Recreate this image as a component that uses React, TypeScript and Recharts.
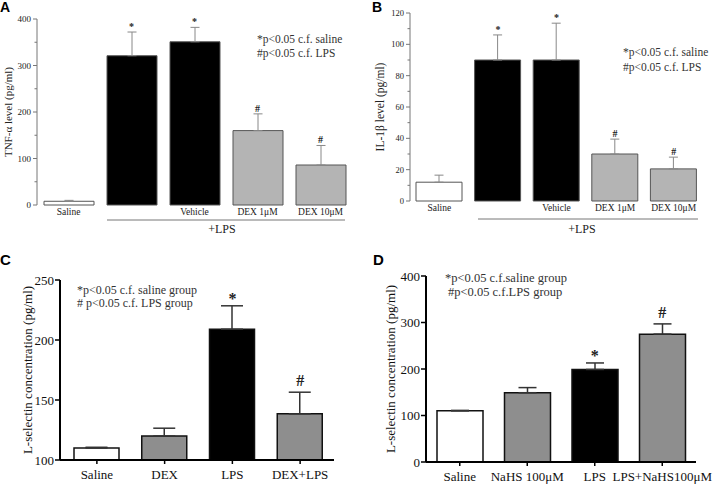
import React from 'react';
import { BarChart, Bar, XAxis, YAxis, ErrorBar, Cell, ReferenceDot } from 'recharts';

const SERIF = '"Liberation Serif", "Times New Roman", serif';
const SANS = '"Liberation Sans", Arial, sans-serif';

// ---- Panel A: TNF-alpha ----
const catsA = ['Saline', '', 'Vehicle', 'DEX 1μM', 'DEX 10μM'];
const tnfMean = [8, 321, 351, 160, 86];
const tnfErr = [2, 51, 31, 36, 42];
const sigA = ['', '*', '*', '#', '#'];
const fillA = ['#ffffff', '#000000', '#000000', '#b4b4b4', '#b4b4b4'];
const ticksA = [0, 50, 100, 150, 200, 250, 300, 350, 400];

// ---- Panel B: IL-1beta ----
const catsB = ['Saline', '', 'Vehicle', 'DEX 1μM', 'DEX 10μM'];
const ilMean = [12, 90, 90, 30, 20.5];
const ilErr = [4.5, 16, 23.5, 9.5, 7.5];
const sigB = ['', '*', '*', '#', '#'];
const fillB = ['#ffffff', '#000000', '#000000', '#b4b4b4', '#b4b4b4'];
const ticksB = [0, 10, 20, 30, 40, 50, 60, 70, 80, 90, 100, 110, 120];

// ---- Panel C: L-selectin (DEX) ----
const catsC = ['Saline', 'DEX', 'LPS', 'DEX+LPS'];
const lselC = [110, 120, 209, 138.5];
const errC = [0.6, 6.5, 19.5, 18];
const sigC = ['', '', '*', '#'];
const fillC = ['#ffffff', '#8e8e8e', '#000000', '#8e8e8e'];
const ticksC = [100, 150, 200, 250];

// ---- Panel D: L-selectin (NaHS) ----
const catsD = ['Saline', 'NaHS 100μM', 'LPS', 'LPS+NaHS100μM'];
const lselD = [110, 149, 199, 275];
const errD = [1, 11, 14, 22];
const sigD = ['', '', '*', '#'];
const fillD = ['#ffffff', '#8e8e8e', '#000000', '#8e8e8e'];
const ticksD = [0, 100, 200, 300, 400];

const build = (cats: string[], mean: number[], err: number[]) =>
  cats.map((c, i) => ({ id: `g${i}`, label: c, value: mean[i], err: [0, err[i]], top: mean[i] + err[i] }));

const dataA = build(catsA, tnfMean, tnfErr);
const dataB = build(catsB, ilMean, ilErr);
const dataC = build(catsC, lselC, errC);
const dataD = build(catsD, lselD, errD);

const makeYTick = (major: number, font: number, majorLen: number, minorLen: number, color: string) => (props: any) => {
  const { x, y, payload } = props;
  const v = payload.value;
  const isMajor = Math.abs(v % major) < 1e-9;
  const len = isMajor ? majorLen : minorLen;
  return (
    <g>
      <line x1={x} x2={x - len} y1={y} y2={y} stroke={color} strokeWidth={1} />
      {isMajor && (
        <text x={x - majorLen - 2} y={y} dy="0.35em" textAnchor="end" fontSize={font} fontFamily={SERIF} fill="#222">
          {v}
        </text>
      )}
    </g>
  );
};

const sigDots = (data: any[], sig: string[], font: number, offs: Record<string, number>) =>
  data.map((d, i) =>
    sig[i] ? (
      <ReferenceDot
        key={`s${i}`}
        x={d.id}
        y={d.top}
        r={0}
        fill="none"
        stroke="none"
        ifOverflow="visible"
        label={{ value: sig[i], position: 'top', offset: offs[sig[i]], fontSize: font, fontWeight: 'bold', fontFamily: SERIF, fill: '#222' }}
      />
    ) : null
  );

export default function App() {
  return (
    <div style={{ position: 'absolute', left: 0, top: 0, width: 720, height: 485, background: '#fff', overflow: 'hidden' }}>
      {/* Panel A */}
      <div style={{ position: 'absolute', left: 0, top: 0 }}>
        <BarChart width={360} height={240} data={dataA} margin={{ top: 19, right: 8, bottom: 5, left: 0 }}>
          <XAxis
            dataKey="id"
            axisLine={false}
            tickLine={false}
            tickSize={0}
            tickMargin={3}
            height={30}
            interval={0}
            tickFormatter={(_v: any, i: number) => catsA[i]}
            tick={{ fontSize: 9.5, fontFamily: SERIF, fill: '#222' }}
          />
          <YAxis
            width={37}
            domain={[0, 400]}
            ticks={ticksA}
            interval={0}
            axisLine={{ stroke: '#777', strokeWidth: 1 }}
            tickLine={false}
            tickSize={0}
            tickMargin={0}
            tick={makeYTick(100, 9, 4, 2.5, '#777')}
            label={{ value: 'TNF-α level (pg/ml)', angle: -90, position: 'insideLeft', offset: 8, style: { textAnchor: 'middle' }, fontSize: 11, fontFamily: SERIF, fill: '#222' }}
          />
          <Bar dataKey="value" barSize={50} stroke="#555" strokeWidth={1} isAnimationActive={false}>
            {dataA.map((_d, i) => (
              <Cell key={i} fill={fillA[i]} />
            ))}
            <ErrorBar dataKey="err" direction="y" width={4.5} stroke="#888" strokeWidth={1} />
          </Bar>
          {sigDots(dataA, sigA, 10, { '*': 2, '#': 2 })}
        </BarChart>
      </div>

      {/* Panel B */}
      <div style={{ position: 'absolute', left: 360, top: 0 }}>
        <BarChart width={360} height={240} data={dataB} margin={{ top: 13, right: 17, bottom: 5, left: 0 }}>
          <XAxis
            dataKey="id"
            axisLine={false}
            tickLine={false}
            tickSize={0}
            tickMargin={3}
            height={34}
            interval={0}
            tickFormatter={(_v: any, i: number) => catsB[i]}
            tick={{ fontSize: 9.5, fontFamily: SERIF, fill: '#222' }}
          />
          <YAxis
            width={50}
            domain={[0, 120]}
            ticks={ticksB}
            interval={0}
            axisLine={{ stroke: '#777', strokeWidth: 1 }}
            tickLine={false}
            tickSize={0}
            tickMargin={0}
            tick={makeYTick(20, 8.5, 4, 2.5, '#777')}
            label={{ value: 'IL-1β level (pg/ml)', angle: -90, position: 'insideLeft', offset: 20, style: { textAnchor: 'middle' }, fontSize: 11.5, fontFamily: SERIF, fill: '#222' }}
          />
          <Bar dataKey="value" barSize={46} stroke="#555" strokeWidth={1} isAnimationActive={false}>
            {dataB.map((_d, i) => (
              <Cell key={i} fill={fillB[i]} />
            ))}
            <ErrorBar dataKey="err" direction="y" width={4.5} stroke="#888" strokeWidth={1} />
          </Bar>
          {sigDots(dataB, sigB, 10, { '*': 2, '#': 2 })}
        </BarChart>
      </div>

      {/* Panel C */}
      <div style={{ position: 'absolute', left: 0, top: 240 }}>
        <BarChart width={360} height={245} data={dataC} margin={{ top: 40, right: 26, bottom: 3, left: 0 }}>
          <XAxis
            dataKey="id"
            axisLine={{ stroke: '#000', strokeWidth: 2 }}
            tickLine={{ stroke: '#000', strokeWidth: 1.5 }}
            tickSize={4}
            tickMargin={6}
            height={22}
            interval={0}
            padding={{ left: 3, right: 0 }}
            tickFormatter={(_v: any, i: number) => catsC[i]}
            tick={{ fontSize: 13, fontFamily: SERIF, fill: '#111' }}
          />
          <YAxis
            width={60}
            domain={[100, 250]}
            ticks={ticksC}
            interval={0}
            axisLine={{ stroke: '#000', strokeWidth: 2 }}
            tickLine={{ stroke: '#000', strokeWidth: 1.5 }}
            tickSize={5}
            tickMargin={1}
            tick={{ fontSize: 13, fontFamily: SERIF, fill: '#111' }}
            label={{ value: 'L-selectin concentration (pg/ml)', angle: -90, position: 'insideLeft', offset: 27, style: { textAnchor: 'middle' }, fontSize: 13, fontFamily: SERIF, fill: '#111' }}
          />
          <Bar dataKey="value" barSize={45} stroke="#111" strokeWidth={1.5} isAnimationActive={false}>
            {dataC.map((_d, i) => (
              <Cell key={i} fill={fillC[i]} />
            ))}
            <ErrorBar dataKey="err" direction="y" width={11} stroke="#333" strokeWidth={1.5} />
          </Bar>
          {sigDots(dataC, sigC, 16, { '*': 2, '#': 6 })}
        </BarChart>
      </div>

      {/* Panel D */}
      <div style={{ position: 'absolute', left: 360, top: 240 }}>
        <BarChart width={360} height={245} data={dataD} margin={{ top: 36, right: 24, bottom: 3, left: 0 }}>
          <XAxis
            dataKey="id"
            axisLine={{ stroke: '#000', strokeWidth: 2 }}
            tickLine={{ stroke: '#000', strokeWidth: 1.5 }}
            tickSize={4}
            tickMargin={6}
            height={20}
            interval={0}
            tickFormatter={(_v: any, i: number) => catsD[i]}
            tick={{ fontSize: 13, fontFamily: SERIF, fill: '#111' }}
          />
          <YAxis
            width={66}
            domain={[0, 400]}
            ticks={ticksD}
            interval={0}
            axisLine={{ stroke: '#000', strokeWidth: 2 }}
            tickLine={{ stroke: '#000', strokeWidth: 1.5 }}
            tickSize={5}
            tickMargin={1}
            tick={{ fontSize: 13, fontFamily: SERIF, fill: '#111' }}
            label={{ value: 'L-selectin concentration (pg/ml)', angle: -90, position: 'insideLeft', offset: 30, style: { textAnchor: 'middle' }, fontSize: 13, fontFamily: SERIF, fill: '#111' }}
          />
          <Bar dataKey="value" barSize={46} stroke="#111" strokeWidth={1.5} isAnimationActive={false}>
            {dataD.map((_d, i) => (
              <Cell key={i} fill={fillD[i]} />
            ))}
            <ErrorBar dataKey="err" direction="y" width={9} stroke="#333" strokeWidth={1.5} />
          </Bar>
          {sigDots(dataD, sigD, 16, { '*': 2, '#': 6 })}
        </BarChart>
      </div>

      {/* Annotations overlay */}
      <svg width={720} height={485} style={{ position: 'absolute', left: 0, top: 0, pointerEvents: 'none' }}>
        <g fontFamily={SANS} fontWeight="bold" fill="#000">
          <text x={0} y={12} fontSize={14}>A</text>
          <text x={372} y={12} fontSize={14}>B</text>
          <text x={0} y={265} fontSize={15}>C</text>
          <text x={373} y={265} fontSize={15}>D</text>
        </g>
        <g fontFamily={SERIF} fill="#333" style={{ whiteSpace: 'pre' }}>
          <text x={257} y={43} fontSize={11.5}>*p&lt;0.05 c.f. saline</text>
          <text x={257} y={57} fontSize={11.5}>#p&lt;0.05 c.f. LPS</text>
          <text x={623} y={56} fontSize={11.5}>*p&lt;0.05 c.f. saline</text>
          <text x={623} y={71} fontSize={11.5}>#p&lt;0.05 c.f. LPS</text>
          <text x={77} y={294} fontSize={12}>*p&lt;0.05 c.f. saline group</text>
          <text x={77} y={307} fontSize={12}>{'# p<0.05 c.f.  LPS group'}</text>
          <text x={445} y={282} fontSize={12.5}>*p&lt;0.05 c.f.saline group</text>
          <text x={448} y={296} fontSize={12.5}>#p&lt;0.05 c.f.LPS group</text>
        </g>
        <line x1={107} x2={345} y1={220} y2={220} stroke="#777" strokeWidth={1} />
        <text x={222} y={233} fontSize={12} fontFamily={SERIF} textAnchor="middle" fill="#222">+LPS</text>
        <line x1={478} x2={698} y1={219} y2={219} stroke="#777" strokeWidth={1} />
        <text x={582} y={233} fontSize={12} fontFamily={SERIF} textAnchor="middle" fill="#222">+LPS</text>
      </svg>
    </div>
  );
}
